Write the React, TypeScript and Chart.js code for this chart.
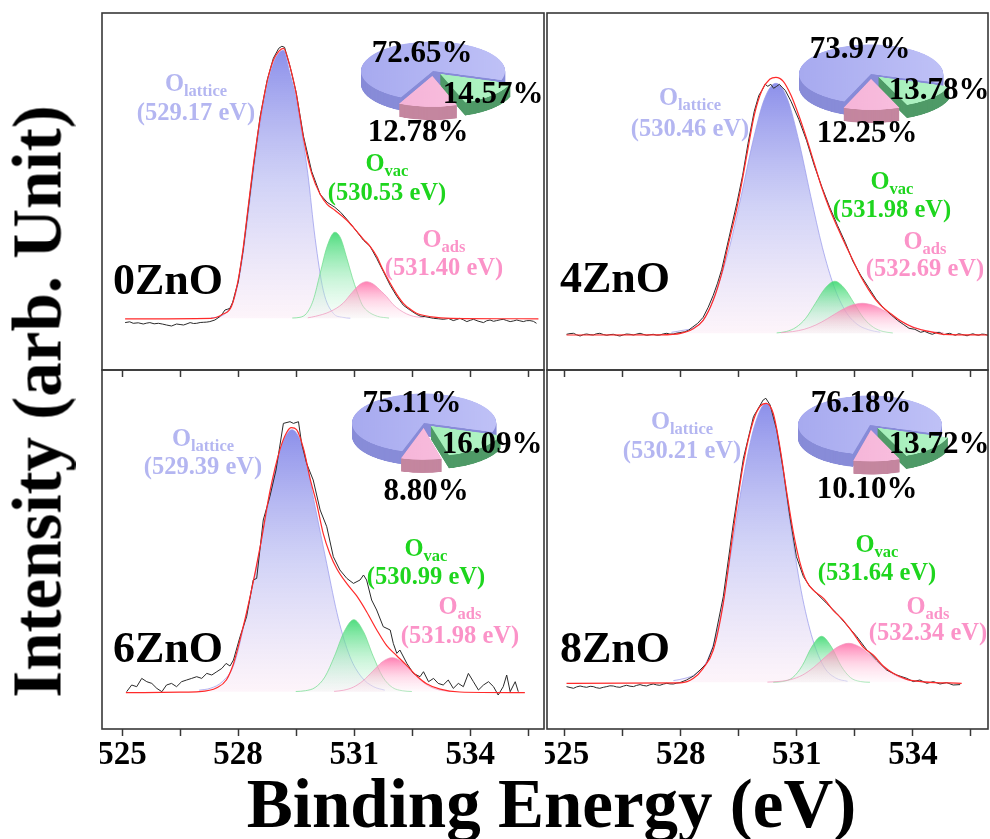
import React, { useEffect, useRef } from 'react';
import { Chart, registerables } from 'chart.js';

Chart.register(...registerables);

const FONT = '"Liberation Serif", "Times New Roman", Times, serif';

// ---------------- data ----------------
const X_TICKS = [525, 526.5, 528, 529.5, 531, 532.5, 534, 535.5];
const X_TICK_LABELS = [525, 528, 531, 534];
const SAMPLE_NAMES = ['0ZnO', '4ZnO', '6ZnO', '8ZnO'];

// peak centres (eV): [O_lattice, O_vac, O_ads]
const ZNO0_PEAKS = [529.17, 530.53, 531.4];
const ZNO4_PEAKS = [530.46, 531.98, 532.69];
const ZNO6_PEAKS = [529.39, 530.99, 531.98];
const ZNO8_PEAKS = [530.21, 531.64, 532.34];

// area fractions (%): [O_vac, O_ads, O_lattice]
const ZNO0_PIE = [14.57, 12.78, 72.65];
const ZNO4_PIE = [13.78, 12.25, 73.97];
const ZNO6_PIE = [16.09, 8.8, 75.11];
const ZNO8_PIE = [13.72, 10.1, 76.18];

type P = [number, number][];

// ---- 0ZnO ----
const ZNO0_RAW: P = [[525.08,-4.3],[525.2,-3.5],[525.29,-5],[525.42,-4.5],[525.55,-5.7],[525.64,-4.8],[525.72,-4.3],[525.83,-5.5],[525.94,-5],[526.05,-5.8],[526.15,-6.7],[526.28,-7.7],[526.41,-5.7],[526.5,-6.2],[526.59,-6.7],[526.68,-5.5],[526.76,-4.3],[526.85,-5.2],[526.93,-5],[527.02,-4.2],[527.1,-4],[527.19,-3.8],[527.27,-3.3],[527.4,-1.7],[527.53,1.7],[527.6,5],[527.66,8.3],[527.72,9],[527.79,10],[527.86,16],[527.92,25],[528.0,36],[528.13,68],[528.25,106],[528.4,153],[528.57,202],[528.75,238],[528.91,260],[529.05,270],[529.13,272],[529.2,271],[529.34,252],[529.5,226],[529.69,182],[529.9,147],[530.12,124],[530.3,116],[530.5,111],[530.65,106],[530.81,99],[531.0,90],[531.24,78],[531.41,72],[531.58,60],[531.75,47],[531.93,33],[532.1,22],[532.27,13],[532.45,8],[532.61,4],[532.7,2.3],[532.85,1.5],[533.05,0],[533.18,-0.5],[533.3,-1],[533.44,-0.2],[533.56,-2.3],[533.65,-1.2],[533.73,0],[533.82,-1.5],[533.91,-3.3],[534.0,-2],[534.08,-1],[534.2,-2.8],[534.34,-4.3],[534.42,-2.5],[534.51,-1.7],[534.6,-3],[534.68,-2.3],[534.77,-1.5],[534.85,-1],[534.94,-2.2],[535.03,-3.3],[535.12,-2.6],[535.2,-1.7],[535.28,-2.5],[535.37,-3.3],[535.45,-2.4],[535.54,-2.3],[535.63,-3],[535.71,-5]];
const ZNO0_FIT: P = [[525.08,-0.5],[527.3,0],[527.6,4],[527.83,12],[528.0,38],[528.13,70],[528.25,108],[528.4,155],[528.57,200],[528.75,237],[528.91,258],[529.05,267],[529.17,270],[529.34,252],[529.5,225],[529.69,180],[529.9,145],[530.12,124],[530.3,114],[530.5,108],[530.81,98],[531.0,90],[531.24,79],[531.41,72],[531.58,62],[531.75,48],[531.93,35],[532.1,24],[532.27,15],[532.45,9],[532.61,5],[533.0,1.5],[533.5,0],[535.76,-0.5]];
const ZNO0_LAT: P = [[527.3,0.5],[527.5,1.5],[527.7,6],[527.9,20],[528.05,45],[528.2,85],[528.4,148],[528.57,195],[528.75,232],[528.91,255],[529.05,265],[529.17,268],[529.34,245],[529.5,220],[529.65,185],[529.8,145],[529.99,80],[530.2,28],[530.46,5],[530.7,1],[530.9,0.2]];
const ZNO0_VAC: P = [[529.4,0.3],[529.6,1],[529.77,5],[529.94,18],[530.12,45],[530.3,72],[530.5,86],[530.65,80],[530.81,60],[530.95,41],[531.07,27],[531.2,14],[531.32,8],[531.6,2],[531.9,0.3]];
const ZNO0_ADS: P = [[529.8,0.5],[530.0,2],[530.37,6.6],[530.71,15],[530.95,26],[531.15,34],[531.32,36.6],[531.5,34],[531.7,27],[531.84,21.6],[532.0,14],[532.18,8.3],[532.35,4.5],[532.53,2],[532.8,0.5]];

// ---- 4ZnO ----
const ZNO4_RAW: P = [[525.05,-1],[525.14,-0.3],[525.23,0],[525.31,-1.5],[525.4,-2.7],[525.49,-1.2],[525.57,-0.7],[525.66,-1.4],[525.74,-1.7],[525.82,-0.5],[525.91,0],[526.0,-1.2],[526.09,-2],[526.17,-1.3],[526.26,-1],[526.34,-2],[526.43,-2.7],[526.52,-1.5],[526.6,-0.7],[526.69,-1],[526.78,-1.7],[526.86,-0.8],[526.95,0],[527.03,-1],[527.12,-2],[527.2,-1.5],[527.29,-1],[527.38,-1.9],[527.46,-1.7],[527.55,-0.6],[527.64,0],[527.72,-0.8],[527.81,-0.7],[527.9,0.2],[527.98,0.7],[528.1,1.5],[528.2,3],[528.3,6],[528.44,10],[528.58,16],[528.71,26],[528.84,38],[528.95,50],[529.06,64],[529.25,96],[529.45,130],[529.6,158],[529.74,190],[529.9,222],[530.02,238],[530.1,243],[530.18,249],[530.25,247],[530.33,249],[530.4,245],[530.48,247],[530.55,249],[530.62,246],[530.7,243],[530.85,232],[531.05,214],[531.25,193],[531.45,168],[531.65,146],[531.85,126],[532.05,108],[532.25,91],[532.45,72],[532.65,58],[532.85,46],[533.05,34],[533.25,25],[533.45,18],[533.6,13],[533.75,9],[533.9,5],[534.05,4],[534.2,1],[534.3,2],[534.42,0],[534.5,-1],[534.6,0.5],[534.68,1],[534.8,-1.5],[534.88,-0.5],[534.95,0],[535.03,-1.2],[535.1,-2],[535.18,-0.4],[535.25,-1],[535.33,-1.8],[535.4,-2.5],[535.48,-1.2],[535.55,-0.5],[535.63,-1.5],[535.7,-2],[535.78,-0.8],[535.85,-1],[535.94,-2]];
const ZNO4_FIT: P = [[525.05,-1.7],[527.5,-1.5],[528.0,0],[528.3,4],[528.58,13],[528.84,33],[529.06,60],[529.25,92],[529.45,125],[529.6,155],[529.74,185],[529.9,218],[530.1,243],[530.3,254],[530.46,256],[530.65,252],[530.85,238],[531.05,218],[531.25,195],[531.45,170],[531.65,145],[531.85,124],[532.05,106],[532.25,89],[532.45,73],[532.65,57],[532.85,44],[533.05,33],[533.25,25],[533.45,19],[533.7,12],[534.0,6],[534.4,2],[534.8,-1],[535.94,-1.7]];
const ZNO4_LAT: P = [[527.76,1],[528.06,3],[528.36,6],[528.66,18],[528.96,47],[529.26,86],[529.56,137],[529.86,191],[530.16,234],[530.46,250],[530.76,234],[531.06,191],[531.36,137],[531.66,86],[531.96,47],[532.26,22],[532.56,9],[532.86,3.5],[533.16,1]];
const ZNO4_VAC: P = [[530.48,0.4],[530.73,1.8],[530.98,6],[531.23,15],[531.48,30],[531.73,45],[531.98,52],[532.23,45],[532.48,30],[532.73,15],[532.98,6],[533.23,1.8],[533.48,0.4]];
const ZNO4_ADS: P = [[530.59,0.6],[530.89,1.7],[531.19,4],[531.49,8.3],[531.79,14.6],[532.09,21.8],[532.39,27.7],[532.69,30],[532.99,27.7],[533.29,21.8],[533.59,14.6],[533.89,8.3],[534.19,4],[534.49,1.7],[534.79,0.6]];

// ---- 6ZnO ----
const ZNO6_RAW: P = [[525.12,0],[525.25,6.7],[525.38,5],[525.51,13.3],[525.64,10],[525.77,8.3],[525.9,3.3],[526.03,0],[526.15,6.7],[526.28,8.3],[526.41,5],[526.54,10],[526.67,11.7],[526.8,13.3],[526.93,15],[527.06,13.3],[527.19,18.3],[527.32,16.7],[527.45,20],[527.58,23.3],[527.69,28.3],[527.79,25.7],[527.88,31.7],[528.05,55],[528.22,75],[528.39,111.7],[528.48,113.3],[528.65,171.7],[528.82,195],[528.98,221.7],[529.17,268.3],[529.34,270],[529.43,268.3],[529.56,270],[529.64,248.3],[529.77,228.3],[529.94,211.7],[530.12,181.7],[530.29,165],[530.46,135],[530.63,121.7],[530.81,113.3],[530.98,108.3],[531.15,111.7],[531.24,116.7],[531.32,111.7],[531.45,91.7],[531.58,81.7],[531.75,65],[531.93,61.7],[532.01,48.3],[532.1,38.3],[532.18,41.7],[532.36,28.3],[532.53,18.3],[532.7,15],[532.79,20],[532.92,10],[533.05,13.3],[533.17,8.3],[533.3,6.7],[533.43,11.7],[533.56,3.3],[533.69,8.3],[533.82,5],[533.95,18.3],[534.08,10],[534.21,1.7],[534.34,6.7],[534.47,10],[534.6,5],[534.72,-3.3],[534.85,5],[534.94,16.7],[535.03,0],[535.16,10],[535.24,0]];
const ZNO6_FIT: P = [[525.1,-1],[526.5,-0.5],[527.0,0],[527.45,4],[527.7,12],[527.88,28],[528.05,52],[528.31,95],[528.57,145],[528.82,200],[529.08,242],[529.25,259],[529.38,264],[529.51,262],[529.69,243],[529.86,213],[530.03,188],[530.2,158],[530.37,138],[530.55,123],[530.81,108],[531.06,96],[531.32,80],[531.58,62],[531.84,46],[532.1,36],[532.36,26],[532.61,16],[532.87,8],[533.22,2.5],[533.73,-0.3],[535.41,-1]];
const ZNO6_LAT: P = [[526.99,1.5],[527.29,3.5],[527.59,10],[527.89,27],[528.19,73],[528.49,128],[528.79,190],[529.09,242],[529.39,262],[529.69,242],[529.99,185],[530.29,128],[530.59,73],[530.89,35],[531.19,14.6],[531.49,5.2],[531.79,1.5]];
const ZNO6_VAC: P = [[529.49,0.2],[529.74,1],[529.99,4.2],[530.24,14.6],[530.49,35.5],[530.74,60],[530.99,72],[531.24,60],[531.49,35.5],[531.74,14.6],[531.99,4.2],[532.24,1],[532.49,0.2]];
const ZNO6_ADS: P = [[530.48,0.3],[530.73,1.5],[530.98,4.6],[531.23,11],[531.48,20.5],[531.73,30],[531.98,34],[532.23,30],[532.48,20.5],[532.73,11],[532.98,4.6],[533.23,1.5],[533.48,0.3]];

// ---- 8ZnO ----
const ZNO8_RAW: P = [[525.05,-4.3],[525.14,-5.2],[525.23,-6],[525.31,-4.6],[525.4,-3.7],[525.49,-4.5],[525.57,-5],[525.66,-4],[525.74,-4.3],[525.82,-5.4],[525.91,-6],[526.0,-5],[526.09,-4.3],[526.17,-3.5],[526.26,-3.7],[526.34,-4.6],[526.43,-5],[526.52,-3.8],[526.6,-3],[526.69,-3.9],[526.78,-4.3],[526.86,-3.1],[526.95,-2.3],[527.03,-3.2],[527.12,-3.7],[527.2,-2.5],[527.29,-1.7],[527.38,-2.6],[527.46,-3],[527.55,-1.8],[527.64,-1],[527.72,-1.6],[527.81,-1.7],[527.9,-0.8],[527.98,-0.3],[528.15,2.3],[528.33,6.3],[528.5,12.3],[528.67,19],[528.84,35.7],[529.1,85.7],[529.36,159],[529.62,224],[529.88,265.7],[530.13,282.3],[530.2,284],[530.31,277.3],[530.48,252.3],[530.65,212.3],[530.82,165.7],[530.99,125.7],[531.17,105.7],[531.34,95.7],[531.51,89],[531.77,79],[532.03,69],[532.29,57.3],[532.55,45.7],[532.81,32.3],[533.06,22.3],[533.32,12.3],[533.58,7.3],[533.84,4],[534.01,0.7],[534.18,2.3],[534.36,-1],[534.53,0.7],[534.7,-1.7],[534.87,-0.3],[535.04,-2.7],[535.22,-2.3]];
const ZNO8_FIT: P = [[525.05,-1],[528.0,-0.5],[528.33,4],[528.58,14],[528.84,32],[529.1,79],[529.36,152],[529.62,219],[529.88,262],[530.05,276],[530.21,279],[530.39,269],[530.56,236],[530.74,190],[530.91,150],[531.08,120],[531.25,101],[531.43,92],[531.69,84],[531.94,72],[532.2,62],[532.46,49],[532.72,35],[532.98,27],[533.24,16],[533.49,9],[533.84,3],[534.27,0.5],[535.26,-1]];
const ZNO8_LAT: P = [[527.81,1.7],[528.11,4],[528.41,9],[528.71,24],[529.01,62],[529.31,132],[529.61,203],[529.91,257],[530.21,279],[530.51,245],[530.81,165],[531.11,92],[531.41,43],[531.71,15],[532.01,4.2],[532.31,1]];
const ZNO8_VAC: P = [[530.39,0.1],[530.64,0.8],[530.89,4.6],[531.14,16.6],[531.39,35.7],[531.64,46],[531.89,35.7],[532.14,16.6],[532.39,4.6],[532.64,0.8],[532.89,0.1]];
const ZNO8_ADS: P = [[530.24,0.2],[530.54,0.86],[530.84,2.7],[531.14,7.1],[531.44,15],[531.74,25.5],[532.04,35],[532.34,39],[532.64,35],[532.94,25.5],[533.24,15],[533.54,7.1],[533.84,2.7],[534.14,0.86],[534.44,0.2]];

// ---------------- layout / styles ----------------
const PAD = 2;
type Pt = { x: number; b: number };
type PanelCfg = {
  name: string; raw: P; fit: P; lat: P; vac: P; ads: P; peaks: number[]; pie: number[];
  box: { x: number; y: number; w: number; h: number };
  xMin: number; xMax: number; yMin: number; yMax: number; showLabels: boolean;
  nameAt: Pt; latAt: [number, number, number]; vacAt: [number, number, number]; adsAt: [number, number, number];
  pieC: { x: number; y: number }; pieText: Pt[];
};

const PANELS: PanelCfg[] = [
  { name: SAMPLE_NAMES[0], raw: ZNO0_RAW, fit: ZNO0_FIT, lat: ZNO0_LAT, vac: ZNO0_VAC, ads: ZNO0_ADS, peaks: ZNO0_PEAKS, pie: ZNO0_PIE,
    box: { x: 102, y: 13, w: 442, h: 357 }, xMin: 524.483, xMax: 535.904, yMin: -51.7, yMax: 305.3, showLabels: false,
    nameAt: { x: 113, b: 295 }, latAt: [196, 92, 121], vacAt: [387, 172, 201], adsAt: [444, 248, 276],
    pieC: { x: 433, y: 71 }, pieText: [{ x: 493, b: 103 }, { x: 418, b: 141 }, { x: 422, b: 62 }] },
  { name: SAMPLE_NAMES[1], raw: ZNO4_RAW, fit: ZNO4_FIT, lat: ZNO4_LAT, vac: ZNO4_VAC, ads: ZNO4_ADS, peaks: ZNO4_PEAKS, pie: ZNO4_PIE,
    box: { x: 547, y: 13, w: 441, h: 357 }, xMin: 524.545, xMax: 535.94, yMin: -36.7, yMax: 320.3, showLabels: false,
    nameAt: { x: 560, b: 293 }, latAt: [690, 106, 137], vacAt: [892, 190, 218], adsAt: [925, 250, 277],
    pieC: { x: 871, y: 74 }, pieText: [{ x: 939, b: 99 }, { x: 867, b: 142 }, { x: 860, b: 58 }] },
  { name: SAMPLE_NAMES[2], raw: ZNO6_RAW, fit: ZNO6_FIT, lat: ZNO6_LAT, vac: ZNO6_VAC, ads: ZNO6_ADS, peaks: ZNO6_PEAKS, pie: ZNO6_PIE,
    box: { x: 102, y: 370, w: 442, h: 359 }, xMin: 524.483, xMax: 535.904, yMin: -37.3, yMax: 321.7, showLabels: true,
    nameAt: { x: 113, b: 663 }, latAt: [203, 447, 475], vacAt: [426, 557, 585], adsAt: [460, 615, 644],
    pieC: { x: 424, y: 423 }, pieText: [{ x: 492, b: 453 }, { x: 426, b: 500 }, { x: 412, b: 412 }] },
  { name: SAMPLE_NAMES[3], raw: ZNO8_RAW, fit: ZNO8_FIT, lat: ZNO8_LAT, vac: ZNO8_VAC, ads: ZNO8_ADS, peaks: ZNO8_PEAKS, pie: ZNO8_PIE,
    box: { x: 547, y: 370, w: 441, h: 359 }, xMin: 524.545, xMax: 535.94, yMin: -46.7, yMax: 312.3, showLabels: true,
    nameAt: { x: 560, b: 663 }, latAt: [682, 430, 459], vacAt: [877, 553, 581], adsAt: [928, 615, 641],
    pieC: { x: 870, y: 425 }, pieText: [{ x: 939, b: 453 }, { x: 867, b: 498 }, { x: 861, b: 412 }] },
];

const LAT_COLOR = '#b4b6f1';
const VAC_COLOR = '#1ed51e';
const ADS_COLOR = '#fb93c8';

const framePlugin = {
  id: 'frame',
  afterDraw(chart: any) {
    const { ctx, chartArea: a } = chart;
    ctx.save();
    ctx.strokeStyle = '#383838';
    ctx.lineWidth = 1.6;
    ctx.strokeRect(a.left, a.top, a.right - a.left, a.bottom - a.top);
    ctx.restore();
  },
};

function gradientFill(stops: [number, string][], pts: P) {
  const peak = Math.max(...pts.map((p) => p[1]));
  return (c: any) => {
    const chart = c.chart;
    if (!chart.chartArea) return 'rgba(0,0,0,0)';
    const ys = chart.scales.y;
    const g = chart.ctx.createLinearGradient(0, ys.getPixelForValue(peak), 0, ys.getPixelForValue(0));
    stops.forEach(([o, col]) => g.addColorStop(o, col));
    return g;
  };
}

function compDataset(pts: P, line: string, stops: [number, string][]) {
  return {
    data: pts.map(([x, y]) => ({ x, y })),
    borderColor: line,
    borderWidth: 0.8,
    pointRadius: 0,
    cubicInterpolationMode: 'monotone',
    fill: { value: 0 },
    backgroundColor: gradientFill(stops, pts),
  };
}

function lineDataset(pts: P, color: string, width: number, smooth: boolean) {
  return {
    data: pts.map(([x, y]) => ({ x, y })),
    borderColor: color,
    borderWidth: width,
    pointRadius: 0,
    fill: false,
    tension: 0,
    cubicInterpolationMode: smooth ? 'monotone' : 'default',
  };
}

function SpectrumPanel({ cfg }: { cfg: PanelCfg }) {
  const ref = useRef<HTMLCanvasElement>(null);
  const axisH = cfg.showLabels ? 46 : 8;
  const W = cfg.box.w + 2 * PAD;
  const H = cfg.box.h + PAD + axisH;
  useEffect(() => {
    const chart = new Chart(ref.current as HTMLCanvasElement, {
      type: 'line',
      data: {
        datasets: [
          lineDataset(cfg.fit, '#ff2a2a', 1.2, true),
          lineDataset(cfg.raw, '#2a2a2a', 1, false),
          compDataset(cfg.ads, 'rgba(240,150,190,0.9)', [[0, 'rgba(255,105,165,0.85)'], [0.55, 'rgba(255,180,210,0.5)'], [1, 'rgba(255,238,246,0.3)']]),
          compDataset(cfg.vac, 'rgba(110,220,140,0.9)', [[0, 'rgba(50,215,105,0.85)'], [0.55, 'rgba(150,235,180,0.5)'], [1, 'rgba(235,252,242,0.3)']]),
          compDataset(cfg.lat, 'rgba(150,152,235,0.9)', [[0, 'rgba(128,132,232,0.9)'], [0.5, 'rgba(185,187,242,0.65)'], [1, 'rgba(252,236,246,0.55)']]),
        ] as any,
      },
      options: {
        responsive: false,
        maintainAspectRatio: false,
        animation: false,
        devicePixelRatio: 1,
        events: [],
        layout: { padding: { left: PAD, right: PAD, top: PAD, bottom: 0 } },
        plugins: { legend: { display: false }, tooltip: { enabled: false } },
        scales: {
          x: {
            type: 'linear',
            bounds: 'data',
            min: cfg.xMin,
            max: cfg.xMax,
            afterBuildTicks: (s: any) => { s.ticks = X_TICKS.map((v) => ({ value: v })); },
            afterFit: (s: any) => { s.height = axisH; s.paddingLeft = 0; s.paddingRight = 0; },
            grid: { drawOnChartArea: false, drawTicks: true, tickLength: 7, tickWidth: 1.5, tickColor: '#383838' },
            border: { display: false },
            ticks: {
              display: cfg.showLabels,
              autoSkip: false,
              maxRotation: 0,
              padding: 0,
              color: '#000',
              font: { family: FONT, size: 33, weight: 'bold' },
              callback: (v: any) => (X_TICK_LABELS.includes(Number(v)) ? String(v) : ''),
            },
          },
          y: { type: 'linear', display: false, min: cfg.yMin, max: cfg.yMax },
        },
      } as any,
      plugins: [framePlugin],
    });
    return () => chart.destroy();
  }, []);
  return (
    <canvas
      ref={ref}
      width={W}
      height={H}
      style={{ position: 'absolute', left: cfg.box.x - PAD, top: cfg.box.y - PAD, width: W, height: H }}
    />
  );
}

// ---- 3D pie inset ----
const PIE_R = 72;
const PIE_OFFSETS = [40, 48, 0];
const PIE_K = 0.41;
const PIE_DEPTH = 32;
const PIE_S = PIE_R * 2 + Math.max(...PIE_OFFSETS);
const PIE_TOP = [
  ['#8fe8a9', '#b9f6cb'],
  ['#f2a9d1', '#fcc9e5'],
  ['#a3a6ee', '#c3c5f8'],
];
const PIE_SIDE = ['#4f9a67', '#c4869f', '#888cd8'];

const sidePlugin = {
  id: 'side3d',
  beforeDatasetsDraw(chart: any) {
    const meta = chart.getDatasetMeta(0);
    const ctx = chart.ctx;
    for (let t = PIE_DEPTH; t >= 1; t -= 1) {
      ctx.save();
      ctx.translate(0, t);
      meta.data.forEach((arc: any, i: number) => {
        const p = Object.create(arc);
        p.options = Object.assign({}, arc.options, { backgroundColor: PIE_SIDE[i], borderWidth: 0 });
        p.draw(ctx);
      });
      ctx.restore();
    }
  },
};

function PieInset({ cfg }: { cfg: PanelCfg }) {
  const ref = useRef<HTMLCanvasElement>(null);
  const W = PIE_S;
  const H = PIE_S + PIE_DEPTH;
  useEffect(() => {
    const chart = new Chart(ref.current as HTMLCanvasElement, {
      type: 'pie',
      data: {
        labels: ['O vac', 'O ads', 'O lattice'],
        datasets: [{
          data: cfg.pie,
          borderWidth: 0,
          offset: PIE_OFFSETS,
          backgroundColor: (c: any) => {
            const pair = PIE_TOP[c.dataIndex];
            const g = c.chart.ctx.createLinearGradient(0, 0, W, 0);
            g.addColorStop(0, pair[0]);
            g.addColorStop(1, pair[1]);
            return g;
          },
        }],
      },
      options: {
        responsive: false,
        maintainAspectRatio: false,
        animation: false,
        devicePixelRatio: 1,
        events: [],
        rotation: 108,
        layout: { padding: { bottom: PIE_DEPTH } },
        plugins: { legend: { display: false }, tooltip: { enabled: false } },
      } as any,
      plugins: [sidePlugin],
    });
    return () => chart.destroy();
  }, []);
  return (
    <canvas
      ref={ref}
      width={W}
      height={H}
      style={{
        position: 'absolute',
        left: cfg.pieC.x - W / 2,
        top: cfg.pieC.y - W / 2,
        width: W,
        height: H,
        transformOrigin: `${W / 2}px ${W / 2}px`,
        transform: `scaleY(${PIE_K})`,
      }}
    />
  );
}

// ---- text ----
function Label({ x, b, size, color, align = 'center', children }: any) {
  const style: React.CSSProperties = {
    position: 'absolute',
    top: b - 0.8375 * size,
    fontFamily: FONT,
    fontWeight: 700,
    fontSize: size,
    lineHeight: 1,
    color,
    whiteSpace: 'nowrap',
  };
  if (align === 'center') {
    style.left = x - 150;
    style.width = 300;
    style.textAlign = 'center';
  } else {
    style.left = x;
  }
  return <div style={style}>{children}</div>;
}

const SUB: React.CSSProperties = { fontSize: 16.5, position: 'relative', top: 5 };

function PanelTexts({ cfg }: { cfg: PanelCfg }) {
  const fmt = (v: number) => `(${v.toFixed(2)} eV)`;
  const [lat, vac, ads] = cfg.peaks;
  return (
    <>
      <Label x={cfg.nameAt.x} b={cfg.nameAt.b} size={44} color="#000" align="left">{cfg.name}</Label>
      <Label x={cfg.latAt[0]} b={cfg.latAt[1]} size={24.5} color={LAT_COLOR}>O<span style={SUB}>lattice</span></Label>
      <Label x={cfg.latAt[0]} b={cfg.latAt[2]} size={24.5} color={LAT_COLOR}>{fmt(lat)}</Label>
      <Label x={cfg.vacAt[0]} b={cfg.vacAt[1]} size={24.5} color={VAC_COLOR}>O<span style={SUB}>vac</span></Label>
      <Label x={cfg.vacAt[0]} b={cfg.vacAt[2]} size={24.5} color={VAC_COLOR}>{fmt(vac)}</Label>
      <Label x={cfg.adsAt[0]} b={cfg.adsAt[1]} size={24.5} color={ADS_COLOR}>O<span style={SUB}>ads</span></Label>
      <Label x={cfg.adsAt[0]} b={cfg.adsAt[2]} size={24.5} color={ADS_COLOR}>{fmt(ads)}</Label>
      {cfg.pie.map((v, i) => (
        <Label key={i} x={cfg.pieText[i].x} b={cfg.pieText[i].b} size={31} color="#000">{`${v.toFixed(2)}%`}</Label>
      ))}
    </>
  );
}

export default function App() {
  return (
    <div style={{ position: 'fixed', left: 0, top: 0, width: 990, height: 839, background: '#fff', overflow: 'hidden' }}>
      {PANELS.map((p, i) => <SpectrumPanel key={'s' + i} cfg={p} />)}
      {PANELS.map((p, i) => <PieInset key={'p' + i} cfg={p} />)}
      {PANELS.map((p, i) => <PanelTexts key={'t' + i} cfg={p} />)}
      <div
        style={{
          position: 'absolute', left: 37.7 - 350, top: 401 - 34.5, width: 700, height: 69,
          textAlign: 'center', fontFamily: FONT, fontWeight: 700, fontSize: 69, lineHeight: 1,
          color: '#000', transform: 'rotate(-90deg)', whiteSpace: 'nowrap',
        }}
      >
        Intensity (arb. Unit)
      </div>
      <div
        style={{
          position: 'absolute', left: 551.5 - 400, top: 828 - 0.8375 * 69, width: 800,
          textAlign: 'center', fontFamily: FONT, fontWeight: 700, fontSize: 69, lineHeight: 1,
          color: '#000', whiteSpace: 'nowrap',
        }}
      >
        Binding Energy (eV)
      </div>
    </div>
  );
}
